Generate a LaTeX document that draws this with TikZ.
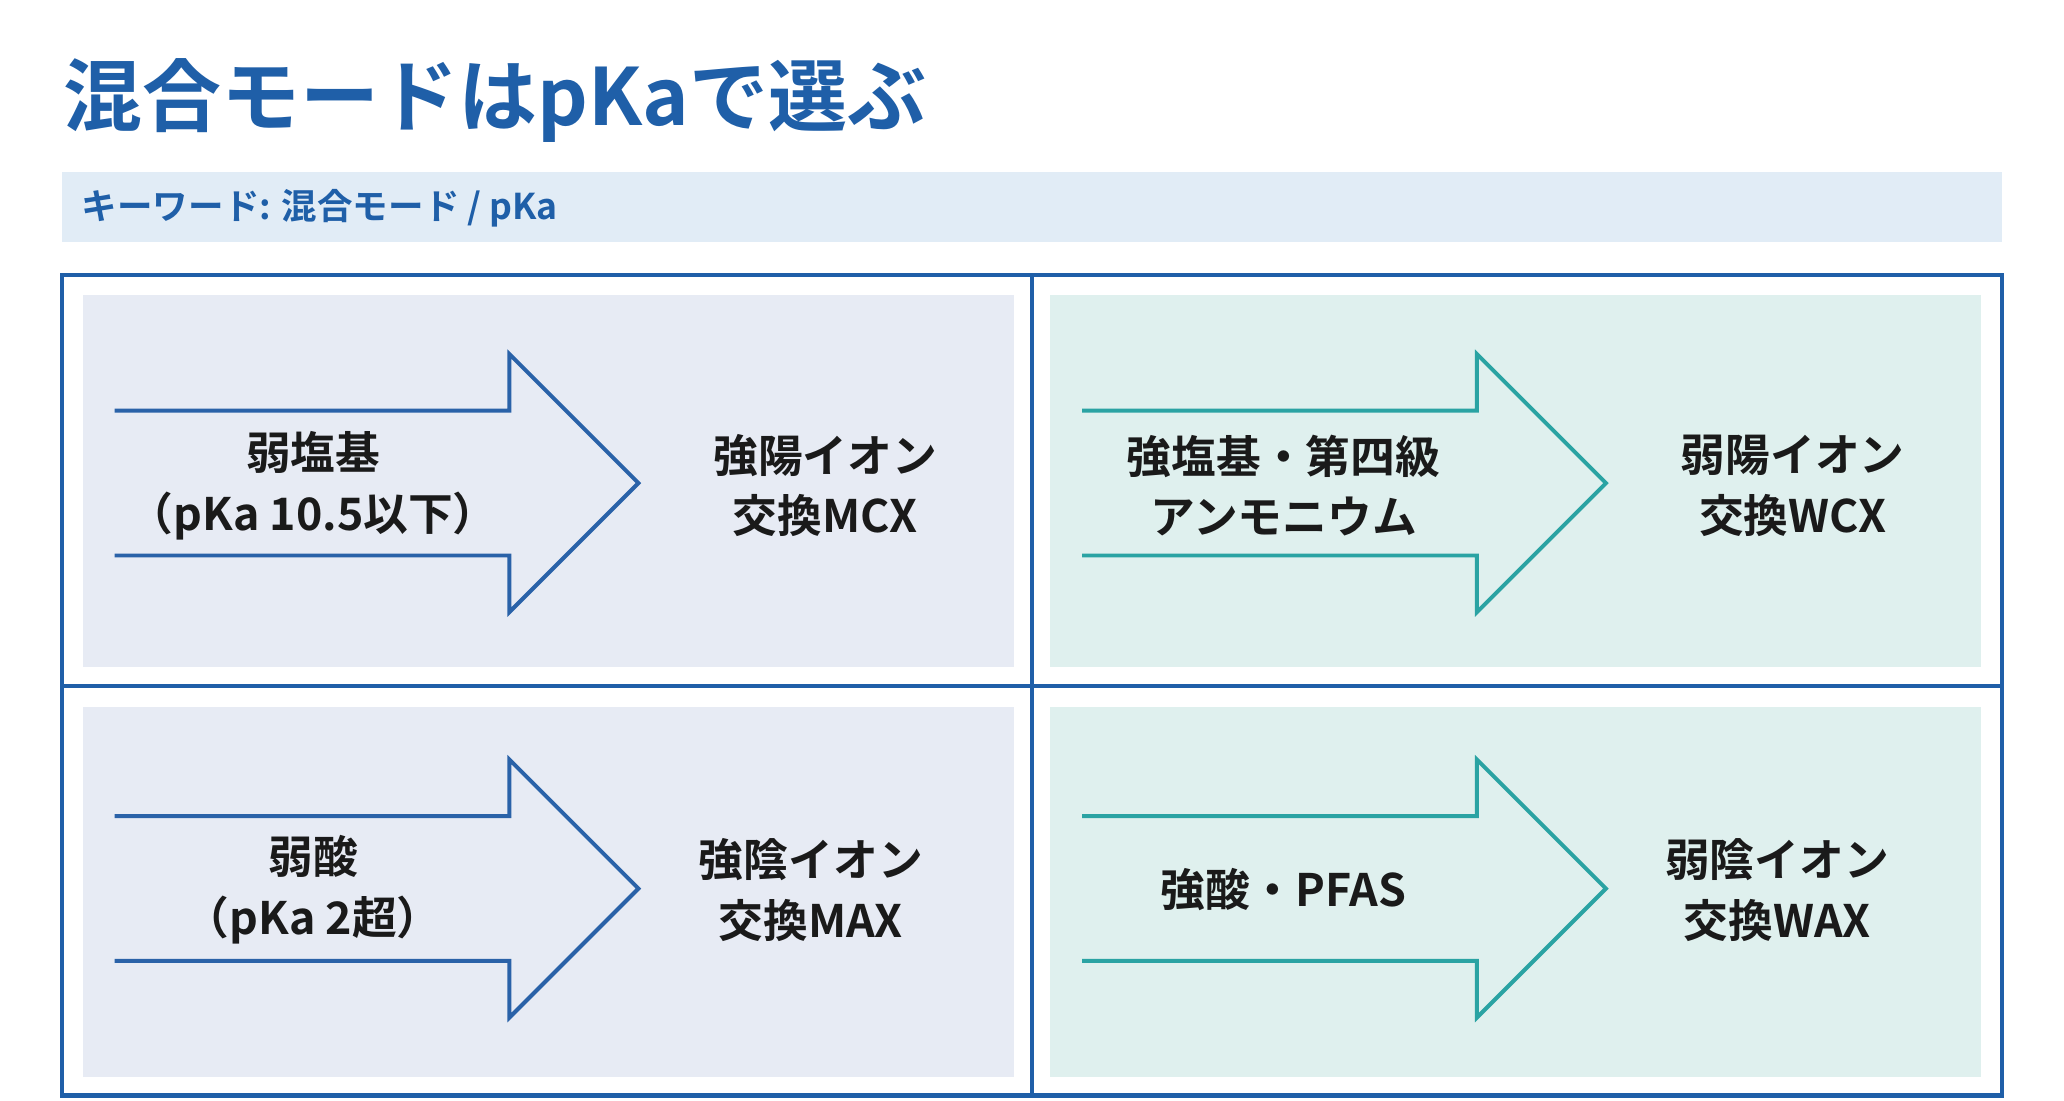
\documentclass[tikz,border=0pt]{standalone}
\usepackage{fontspec}
\setmainfont{Noto Sans CJK JP}[BoldFont={Noto Sans CJK JP Bold}]
\definecolor{titleblue}{HTML}{1F5FA8}
\definecolor{barfill}{HTML}{E1ECF6}
\definecolor{panelblue}{HTML}{E7EBF4}
\definecolor{panelteal}{HTML}{DFF0EE}
\definecolor{arrowblue}{HTML}{2A62A8}
\definecolor{arrowteal}{HTML}{2AA3A3}
\definecolor{textdark}{HTML}{1A1A1A}
\tikzset{
  lbl/.style={align=center,font=\bfseries\fontsize{34}{46}\selectfont,text=textdark,inner sep=0.75pt},
  fatarrow/.pic={
    \draw[line width=3pt,line join=miter] (0,-55) -- (300,-55) -- (300,-98) -- (398,0) -- (300,98) -- (300,55) -- (0,55);
  }
}
\begin{document}
\begin{tikzpicture}[x=1pt,y=1pt,yscale=-1,xscale=1]
\useasboundingbox[fill=white] (0,0) rectangle (1568,836.4);

% title and keyword bar
\node (title) [anchor=west,inner sep=0pt,font=\bfseries\fontsize{60}{70}\selectfont,text=titleblue] at (48,76) {混合モードはpKaで選ぶ};
\fill[barfill] (47,131) rectangle (1521,184);
\node (kw) [anchor=west,inner sep=0pt,font=\bfseries\fontsize{27}{32}\selectfont,text=titleblue] at (62,158) {キーワード: 混合モード / pKa};

% panels
\fill[panelblue] (63,224) rectangle (770,507);
\fill[panelteal] (798,224) rectangle (1505,507);
\fill[panelblue] (63,537) rectangle (770,818);
\fill[panelteal] (798,537) rectangle (1505,818);

% frame
\draw[titleblue,line width=3.5pt] (47,209) rectangle (1521,832);
\draw[titleblue,line width=3.5pt] (784,209) -- (784,832);
\draw[titleblue,line width=3.5pt] (47,521) -- (1521,521);

% arrows
\pic[arrowblue] at (87,367) {fatarrow};
\pic[arrowteal] at (822,367) {fatarrow};
\pic[arrowblue] at (87,675) {fatarrow};
\pic[arrowteal] at (822,675) {fatarrow};

% labels
\node (wb) [lbl] at (238,369) {弱塩基\\（pKa 10.5以下）};
\node (mcx) [lbl] at (627,369) {強陽イオン\\交換MCX};
\node (sb) [lbl] at (975,369) {強塩基・第四級\\アンモニウム};
\node (wcx) [lbl] at (1362,369) {弱陽イオン\\交換WCX};
\node (wa) [lbl] at (238,676) {弱酸\\（pKa 2超）};
\node (max) [lbl] at (616,676) {強陰イオン\\交換MAX};
\node (sa) [lbl] at (975,676) {強酸・PFAS};
\node (wax) [lbl] at (1350,676) {弱陰イオン\\交換WAX};
\end{tikzpicture}
\end{document}
